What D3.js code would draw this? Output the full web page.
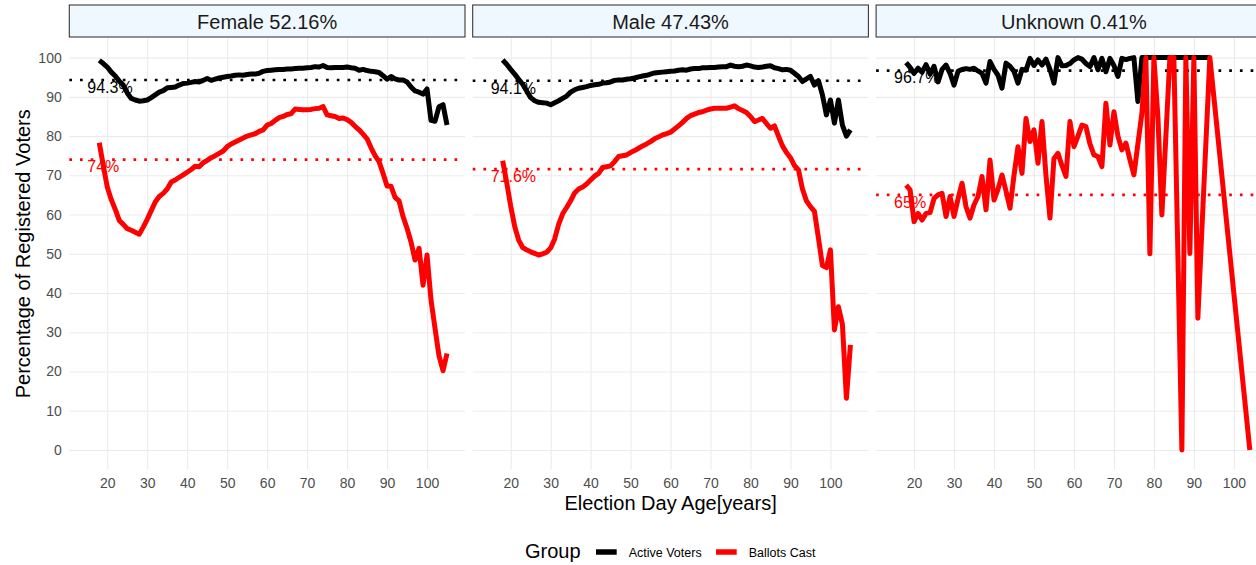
<!DOCTYPE html>
<html>
<head>
<meta charset="utf-8">
<script src="https://cdn.jsdelivr.net/npm/d3@7"></script>
<style>
  html, body { margin: 0; padding: 0; background: #fff; overflow: hidden; }
  svg { display: block; font-family: "Liberation Sans", Arial, sans-serif; }
</style>
</head>
<body>
<div id="chart"></div>
<script>
// ages on election day, one point per year
const ages = [18, 19, 20, 21, 22, 23, 24, 25, 26, 27, 28, 29, 30, 31, 32, 33, 34, 35, 36, 37,
  38, 39, 40, 41, 42, 43, 44, 45, 46, 47, 48, 49, 50, 51, 52, 53, 54, 55, 56, 57,
  58, 59, 60, 61, 62, 63, 64, 65, 66, 67, 68, 69, 70, 71, 72, 73, 74, 75, 76, 77,
  78, 79, 80, 81, 82, 83, 84, 85, 86, 87, 88, 89, 90, 91, 92, 93, 94, 95, 96, 97,
  98, 99, 100, 101, 102, 103, 104, 105];

const femaleActive = [99.3, 98.5, 97.6, 96.3, 95.3, 94.0, 93.0, 91.0, 89.6, 89.2,
  88.9, 89.0, 89.2, 89.8, 90.5, 91.2, 91.6, 92.3, 92.4, 92.5,
  93.0, 93.4, 93.5, 93.7, 93.9, 93.8, 94.2, 94.7, 94.2, 94.5,
  94.8, 95.0, 95.2, 95.3, 95.5, 95.6, 95.5, 95.7, 95.8, 95.8,
  96.0, 96.5, 96.7, 96.8, 96.9, 97.0, 97.0, 97.1, 97.1, 97.2,
  97.3, 97.3, 97.4, 97.5, 97.7, 97.6, 98.0, 97.5, 97.4, 97.5,
  97.5, 97.5, 97.6, 97.4, 97.3, 96.8, 97.0, 96.7, 96.5, 96.4,
  96.2, 95.4, 94.5, 95.2, 94.6, 94.3, 94.3, 93.8, 92.5, 91.5,
  91.2, 90.7, 92.0, 84.0, 83.8, 87.5, 88.0, 82.8];

const femaleBallots = [78.3, 72.5, 67.0, 63.8, 61.3, 58.5, 57.5, 56.4, 56.0, 55.5,
  55.0, 56.8, 58.8, 61.0, 63.2, 64.6, 65.4, 66.5, 68.3, 68.8,
  69.5, 70.1, 70.8, 71.5, 72.3, 72.2, 73.2, 73.8, 74.5, 75.0,
  75.6, 76.2, 77.3, 78.0, 78.5, 79.0, 79.5, 80.0, 80.3, 80.6,
  81.2, 81.6, 82.8, 83.2, 84.0, 84.7, 85.0, 85.5, 85.7, 86.9,
  86.8, 86.7, 86.7, 86.8, 87.0, 87.1, 87.5, 85.4, 85.2, 85.0,
  84.5, 84.6, 84.2, 83.5, 82.5, 81.6, 80.5, 79.3, 77.0, 75.0,
  73.5, 70.5, 67.3, 67.2, 64.4, 63.5, 59.5, 56.5, 53.0, 48.4,
  51.4, 42.0, 49.7, 38.2, 31.0, 24.0, 20.2, 24.6];

const maleActive = [99.4, 98.3, 97.0, 95.8, 94.5, 93.2, 91.5, 89.8, 89.0, 88.6,
  88.5, 88.4, 88.0, 88.5, 89.0, 89.6, 90.2, 91.2, 91.8, 92.2,
  92.4, 92.6, 92.9, 93.1, 93.2, 93.5, 93.6, 93.8, 94.2, 94.3,
  94.3, 94.5, 94.6, 94.8, 95.1, 95.3, 95.5, 95.8, 96.1, 96.2,
  96.3, 96.4, 96.5, 96.6, 96.8, 96.9, 96.8, 97.1, 97.2, 97.2,
  97.4, 97.4, 97.5, 97.5, 97.6, 97.7, 97.7, 98.1, 97.8, 97.7,
  97.8, 98.1, 97.9, 97.6, 97.5, 97.6, 97.8, 97.9, 97.4, 97.2,
  96.9, 97.0, 96.8, 96.0, 95.2, 93.9, 94.6, 95.2, 93.0, 94.1,
  90.5, 85.4, 89.2, 83.3, 89.2, 82.8, 80.0, 81.6];

const maleBallots = [73.7, 68.2, 62.2, 57.0, 53.5, 51.6, 51.0, 50.5, 50.1, 49.7,
  50.0, 50.4, 51.5, 53.8, 57.5, 60.2, 61.8, 63.5, 65.5, 66.5,
  67.0, 67.8, 68.8, 69.8, 70.5, 72.0, 72.2, 72.4, 73.5, 74.8,
  75.0, 75.2, 75.8, 76.3, 76.9, 77.5, 78.0, 78.6, 79.3, 79.8,
  80.3, 80.6, 81.0, 81.8, 82.6, 83.5, 84.5, 85.2, 85.6, 86.0,
  86.2, 86.6, 86.9, 87.1, 87.1, 87.1, 87.1, 87.4, 87.7, 87.0,
  86.5, 86.0, 85.0, 83.7, 84.1, 84.5, 83.2, 82.0, 82.6, 80.0,
  77.5, 75.8, 74.5, 72.5, 71.4, 66.5, 63.5, 62.0, 60.8, 54.0,
  47.0, 46.5, 51.0, 30.6, 36.5, 32.0, 13.2, 26.8];

// unknown gender has no active voters past 94 and no ballots between 95 and 103
const unknownActiveAges = ages.slice(0, 77);
const unknownActive = [98.7, 97.5, 96.0, 97.3, 96.3, 98.2, 95.8, 97.8, 93.8, 97.0,
  98.1, 96.0, 93.0, 96.5, 97.0, 97.2, 97.0, 97.3, 96.6, 96.0,
  93.5, 99.0, 97.0, 95.5, 92.2, 98.6, 97.8, 96.5, 93.5, 97.0,
  96.8, 99.8, 98.0, 99.4, 98.1, 99.6, 97.0, 93.5, 100, 97.9,
  98.0, 98.5, 99.4, 100, 99.6, 98.5, 97.7, 100, 96.9, 99.8,
  96.4, 99.8, 98.0, 95.2, 99.8, 99.5, 99.8, 100, 88.8, 100,
  100, 100, 100, 100, 100, 100, 100, 100, 100, 100,
  100, 100, 100, 100, 100, 100, 100];

const unknownBallotAges = ages.slice(0, 77).concat([104]);
const unknownBallots = [67.5, 66.3, 58.2, 60.3, 58.6, 60.3, 60.5, 64.1, 65.0, 65.4,
  59.5, 64.6, 59.5, 64.0, 68.0, 62.0, 59.1, 62.5, 64.6, 69.7,
  61.2, 73.9, 63.7, 66.5, 70.1, 66.0, 61.6, 70.0, 77.3, 70.5,
  84.5, 78.6, 81.6, 73.1, 83.7, 70.0, 59.1, 74.3, 75.6, 72.5,
  69.7, 83.7, 77.3, 80.0, 82.8, 82.4, 78.0, 75.2, 74.8, 72.2,
  88.4, 77.7, 86.2, 80.0, 76.5, 78.2, 74.0, 70.1, 78.0, 85.8,
  100, 50.0, 100, 85.0, 59.9, 80.0, 100, 100, 50.0, 0,
  100, 50.1, 100, 33.6, 56.0, 78.0, 100,
  0];

const facetTitles = ['Female 52.16%', 'Male 47.43%', 'Unknown 0.41%'];
const activeMeans = [94.3, 94.1, 96.7];
const ballotMeans = [74, 71.6, 65];
const activeMeanLabels = ['94.3%', '94.1%', '96.7%'];
const ballotMeanLabels = ['74%', '71.6%', '65%'];

const xTicks = [20, 30, 40, 50, 60, 70, 80, 90, 100];
const yTicks = [0, 10, 20, 30, 40, 50, 60, 70, 80, 90, 100];
const groups = ['Active Voters', 'Ballots Cast'];
const groupColors = ['#000000', '#FF0000'];

const zip = (xs, ys) => xs.map((a, i) => [a, ys[i]]);

const panels = [
  {title: facetTitles[0], active: zip(ages, femaleActive), ballots: zip(ages, femaleBallots)},
  {title: facetTitles[1], active: zip(ages, maleActive), ballots: zip(ages, maleBallots)},
  {title: facetTitles[2], active: zip(unknownActiveAges, unknownActive), ballots: zip(unknownBallotAges, unknownBallots)}
];

const width = 1256, height = 565;
const panelLeft = 69.3, panelW = 395.7, panelGap = 7.7;
const panelTop = 38, panelBottom = 469.6;

const svg = d3.select('#chart').append('svg')
  .attr('width', width)
  .attr('height', height);

const x = d3.scaleLinear().domain([10.5, 109.5]).range([0, panelW]);
const y = d3.scaleLinear().domain([-5, 105]).range([panelBottom, panelTop]);

const line = d3.line()
  .x(d => x(d[0]))
  .y(d => y(d[1]));

panels.forEach((p, i) => {
  const g = svg.append('g')
    .attr('transform', 'translate(' + (panelLeft + i * (panelW + panelGap)) + ',0)');

  // grid
  g.append('g')
    .attr('class', 'grid')
    .call(d3.axisLeft(y).tickValues(yTicks).tickSize(-panelW).tickFormat(''))
    .call(s => s.select('.domain').remove());
  g.append('g')
    .attr('class', 'grid')
    .attr('transform', 'translate(0,' + panelBottom + ')')
    .call(d3.axisBottom(x).tickValues(xTicks).tickSize(-(panelBottom - panelTop)).tickFormat(''))
    .call(s => s.select('.domain').remove());
  g.selectAll('.grid line')
    .attr('stroke', '#EBEBEB')
    .attr('stroke-width', 1.07);

  // x tick labels
  g.append('g')
    .attr('transform', 'translate(0,' + panelBottom + ')')
    .call(d3.axisBottom(x).tickValues(xTicks).tickSize(0).tickPadding(8))
    .call(s => s.select('.domain').remove())
    .selectAll('text')
      .attr('font-size', 14)
      .attr('font-family', '"Liberation Sans", Arial, sans-serif')
      .attr('fill', '#4D4D4D');

  if (i === 0) {
    g.append('g')
      .call(d3.axisLeft(y).tickValues(yTicks).tickSize(0).tickPadding(7.6))
      .call(s => s.select('.domain').remove())
      .selectAll('text')
        .attr('font-size', 14)
        .attr('font-family', '"Liberation Sans", Arial, sans-serif')
        .attr('fill', '#4D4D4D');
  }

  // strip
  g.append('rect')
    .attr('x', 0).attr('y', 5)
    .attr('width', panelW).attr('height', 32)
    .attr('fill', '#F0F8FF')
    .attr('stroke', '#333333')
    .attr('stroke-width', 1.07);
  g.append('text')
    .attr('x', panelW / 2).attr('y', 29)
    .attr('text-anchor', 'middle')
    .attr('font-size', 20)
    .attr('fill', '#1A1A1A')
    .text(p.title);

  // mean lines + labels
  const means = [activeMeans[i], ballotMeans[i]];
  const labels = [activeMeanLabels[i], ballotMeanLabels[i]];
  means.forEach((m, k) => {
    g.append('line')
      .attr('x1', 0).attr('x2', panelW)
      .attr('y1', y(m)).attr('y2', y(m))
      .attr('stroke', groupColors[k])
      .attr('stroke-width', 2.7)
      .attr('stroke-dasharray', '2.7 8');
    g.append('text')
      .attr('x', x(15)).attr('y', y(m) + 12.8)
      .attr('font-size', 16)
      .attr('fill', groupColors[k])
      .text(labels[k]);
  });

  // data lines
  [p.active, p.ballots].forEach((series, k) => {
    g.append('path')
      .datum(series)
      .attr('d', line)
      .attr('fill', 'none')
      .attr('stroke', groupColors[k])
      .attr('stroke-width', 5)
      .attr('stroke-linejoin', 'round');
  });
});

// axis titles
const plotMid = (panelLeft + panelLeft + 3 * panelW + 2 * panelGap) / 2;
svg.append('text')
  .attr('x', plotMid).attr('y', 510)
  .attr('text-anchor', 'middle')
  .attr('font-size', 20)
  .attr('fill', '#000')
  .text('Election Day Age[years]');

svg.append('text')
  .attr('transform', 'translate(29.5,' + ((panelTop + panelBottom) / 2) + ') rotate(-90)')
  .attr('text-anchor', 'middle')
  .attr('font-size', 20)
  .attr('fill', '#000')
  .text('Percentage of Registered Voters');

// legend
const legend = svg.append('g');
legend.append('text')
  .attr('x', 525).attr('y', 557.5)
  .attr('font-size', 20)
  .attr('fill', '#000')
  .text('Group');
const keyX = [596, 716];
groups.forEach((name, k) => {
  legend.append('line')
    .attr('x1', keyX[k]).attr('x2', keyX[k] + 20.7)
    .attr('y1', 552).attr('y2', 552)
    .attr('stroke', groupColors[k])
    .attr('stroke-width', 5.5);
  legend.append('text')
    .attr('x', keyX[k] + 32.7).attr('y', 556.5)
    .attr('font-size', 12.5)
    .attr('fill', '#000')
    .text(name);
});
</script>
</body>
</html>
